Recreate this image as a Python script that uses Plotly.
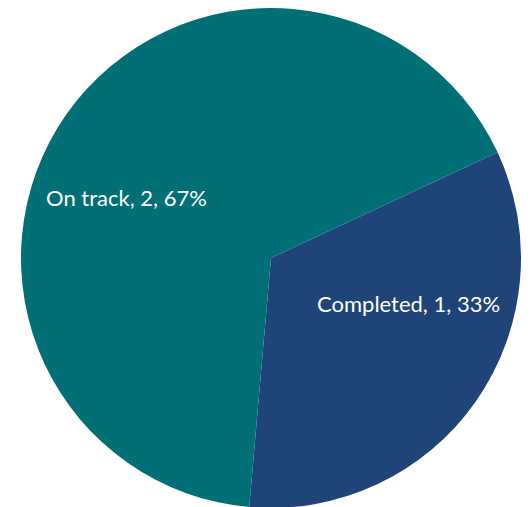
import plotly.graph_objects as go

labels = ["Completed", "On track"]
values = [1, 2]
colors = ["#1F4478", "#007076"]

W, H = 530, 507
OFF = 8  # page body margin

total = sum(values)
fig = go.Figure(go.Pie(
    labels=labels,
    values=values,
    marker=dict(colors=colors, line=dict(width=0)),
    sort=False,
    direction="clockwise",
    rotation=65,
    textinfo="none",
    showlegend=False,
    hoverinfo="none",
    domain=dict(x=[(271 - OFF - 250) / W, (271 - OFF + 250) / W], y=[(H - 500) / H, 1]),
))

# label anchor points (left edge, vertical centre) in window pixels
label_pos = {"On track": (44, 197), "Completed": (315, 303)}
for lab, val in zip(labels, values):
    px, py = label_pos[lab]
    fig.add_annotation(
        x=(px - OFF) / W, y=1 - (py - OFF) / H, xref="paper", yref="paper",
        xanchor="left", yanchor="middle", showarrow=False,
        text=f"{lab}, {val}, {round(100 * val / total)}%",
        font=dict(family="Lato", size=22, color="white"),
    )

fig.update_layout(
    width=W, height=H,
    margin=dict(l=0, r=0, t=0, b=0),
    paper_bgcolor="white",
)
fig.write_html("out.html")
